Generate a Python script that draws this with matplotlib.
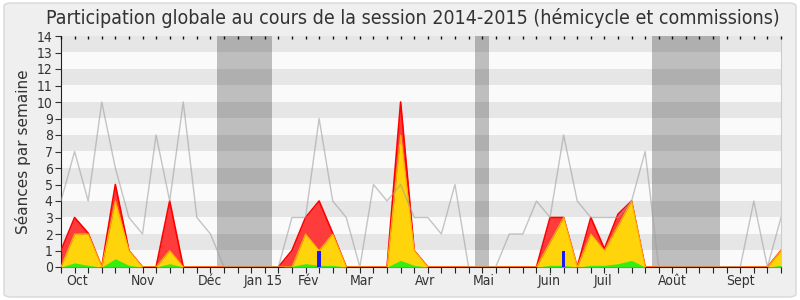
import matplotlib
matplotlib.use("Agg")
import matplotlib.pyplot as plt
from matplotlib.patches import FancyBboxPatch
import matplotlib.transforms as mtransforms
import numpy as np

# ---- data (one value per week, 54 weeks) ----
total_seances = [4, 7, 4, 10, 6, 3, 2, 8, 4, 10, 3, 2, 0, 0, 0, 0, 0, 3, 3, 9,
                 4, 3, 0, 5, 4, 5, 3, 3, 2, 5, 0, 0, 0, 2, 2, 4, 3, 8, 4, 3,
                 3, 3, 4, 7, 0, 0, 0, 0, 0, 0, 0, 4, 0, 3]
presences = [1, 3, 2.05, 0, 5, 1, 0, 0, 4, 0, 0, 0, 0, 0, 0, 0, 0, 1, 3, 4,
             2.05, 0, 0, 0, 0, 10, 1, 0, 0, 0, 0, 0, 0, 0, 0, 0, 3, 3, 0, 3,
             1.1, 3.2, 4, 0, 0, 0, 0, 0, 0, 0, 0, 0, 0, 1]
participations = [0, 2, 2, 0, 4, 1, 0, 0, 1, 0, 0, 0, 0, 0, 0, 0, 0, 0, 2, 1,
                  2, 0, 0, 0, 0, 8, 1, 0, 0, 0, 0, 0, 0, 0, 0, 0, 1.5, 3, 0, 2,
                  1, 2.5, 4, 0, 0, 0, 0, 0, 0, 0, 0, 0, 0, 1]
interventions = [0, 0.25, 0.1, 0, 0.5, 0.1, 0, 0, 0.2, 0, 0, 0, 0, 0, 0, 0, 0, 0.05, 0.2, 0.1,
                 0.1, 0, 0, 0, 0, 0.4, 0.1, 0, 0, 0, 0, 0, 0, 0, 0, 0, 0.1, 0.1, 0, 0.1,
                 0.1, 0.2, 0.4, 0, 0, 0, 0, 0, 0, 0, 0, 0, 0, 0.1]
questions = [0, 0, 0, 0, 0, 0, 0, 0, 0, 0, 0, 0, 0, 0, 0, 0, 0, 0, 0, 0.95,
             0, 0, 0, 0, 0, 0, 0, 0, 0, 0, 0, 0, 0, 0, 0, 0, 0, 0.95, 0, 0,
             0, 0, 0, 0, 0, 0, 0, 0, 0, 0, 0, 0, 0, 0]
holidays = [(11.5, 15.5), (30.5, 31.5), (43.5, 48.5)]
month_labels = ["Oct", "Nov", "Déc", "Jan 15", "Fév", "Mar", "Avr", "Mai",
                "Juin", "Juil", "Août", "Sept"]
month_pos = [1.15, 6.0, 10.95, 14.85, 18.2, 22.1, 26.8, 31.1, 35.9, 39.9, 45.0, 50.0]

weeks = np.arange(len(total_seances))

fig = plt.figure(figsize=(8, 3), dpi=100)
fig.patch.set_facecolor("white")
frame = FancyBboxPatch((0.005, 0.01), 0.99, 0.98, boxstyle="round,pad=0,rounding_size=0.01",
                       transform=fig.transFigure, facecolor="#efefef", edgecolor="#d8d8d8",
                       linewidth=1, zorder=-10)
fig.patches.append(frame)

ax = fig.add_axes([0.07625, 0.11, 0.9, 0.77])
ax.set_facecolor("#fafafa")
ax.set_xlim(0, len(weeks) - 1)
ax.set_ylim(0, 14)

# stripes
for k in range(1, 14, 2):
    ax.axhspan(k + 0.05, k + 1, color="#e6e6e6", lw=0, zorder=0)
# holidays
for a, b in holidays:
    ax.axvspan(a, b, color="black", alpha=0.24, lw=0, zorder=1)

ax.fill_between(weeks, presences, 0, color="#ff3c3c", lw=0, zorder=2)
ax.plot(weeks, presences, color="#ff0000", lw=1.2, zorder=3)
ax.fill_between(weeks, participations, 0, color="#ffd40a", lw=0, zorder=4)
ax.plot(weeks, participations, color="#ffb000", lw=0.8, zorder=5)
ax.fill_between(weeks, interventions, 0, color="#33ee11", lw=0, zorder=6)
ax.bar(weeks, questions, width=0.25, color="#1a1aee", zorder=7)
ax.plot(weeks, total_seances, color="#a0a0a0", lw=1, alpha=0.6, zorder=8)

# axes styling
ax.set_yticks(range(0, 15))
ax.tick_params(axis="y", direction="out", length=4, labelsize=10, pad=2, colors="#333333")
ax.set_xticks(weeks)
ax.set_xticklabels([])
ax.tick_params(axis="x", which="major", direction="out", length=4, colors="#222222")
top = ax.secondary_xaxis("top")
top.set_zorder(20)
top.set_xticks(weeks)
top.set_xticklabels([])
top.tick_params(direction="in", length=2.5, width=1, colors="#111111")
top.spines["top"].set_visible(False)

trans = mtransforms.blended_transform_factory(ax.transData, ax.transAxes)
for lab, pos in zip(month_labels, month_pos):
    ax.text(pos, -0.03, lab, transform=trans, ha="center", va="top", fontsize=10,
            color="#333333", fontstretch="condensed")
for lab in ax.get_yticklabels():
    lab.set_fontstretch("condensed")
ax.spines["left"].set_color("#222222")
ax.spines["bottom"].set_color("#222222")
ax.spines["top"].set_visible(False)
ax.spines["right"].set_color("#cccccc")

ax.set_ylabel("Séances par semaine", fontsize=11, color="#333333", labelpad=4)
fig.text(0.5156, 0.94, "Participation globale au cours de la session 2014-2015 (hémicycle et commissions)",
         ha="center", va="center", fontsize=14, color="#333333", fontstretch="condensed")

fig.savefig("out.png", dpi=100, facecolor=fig.get_facecolor())
